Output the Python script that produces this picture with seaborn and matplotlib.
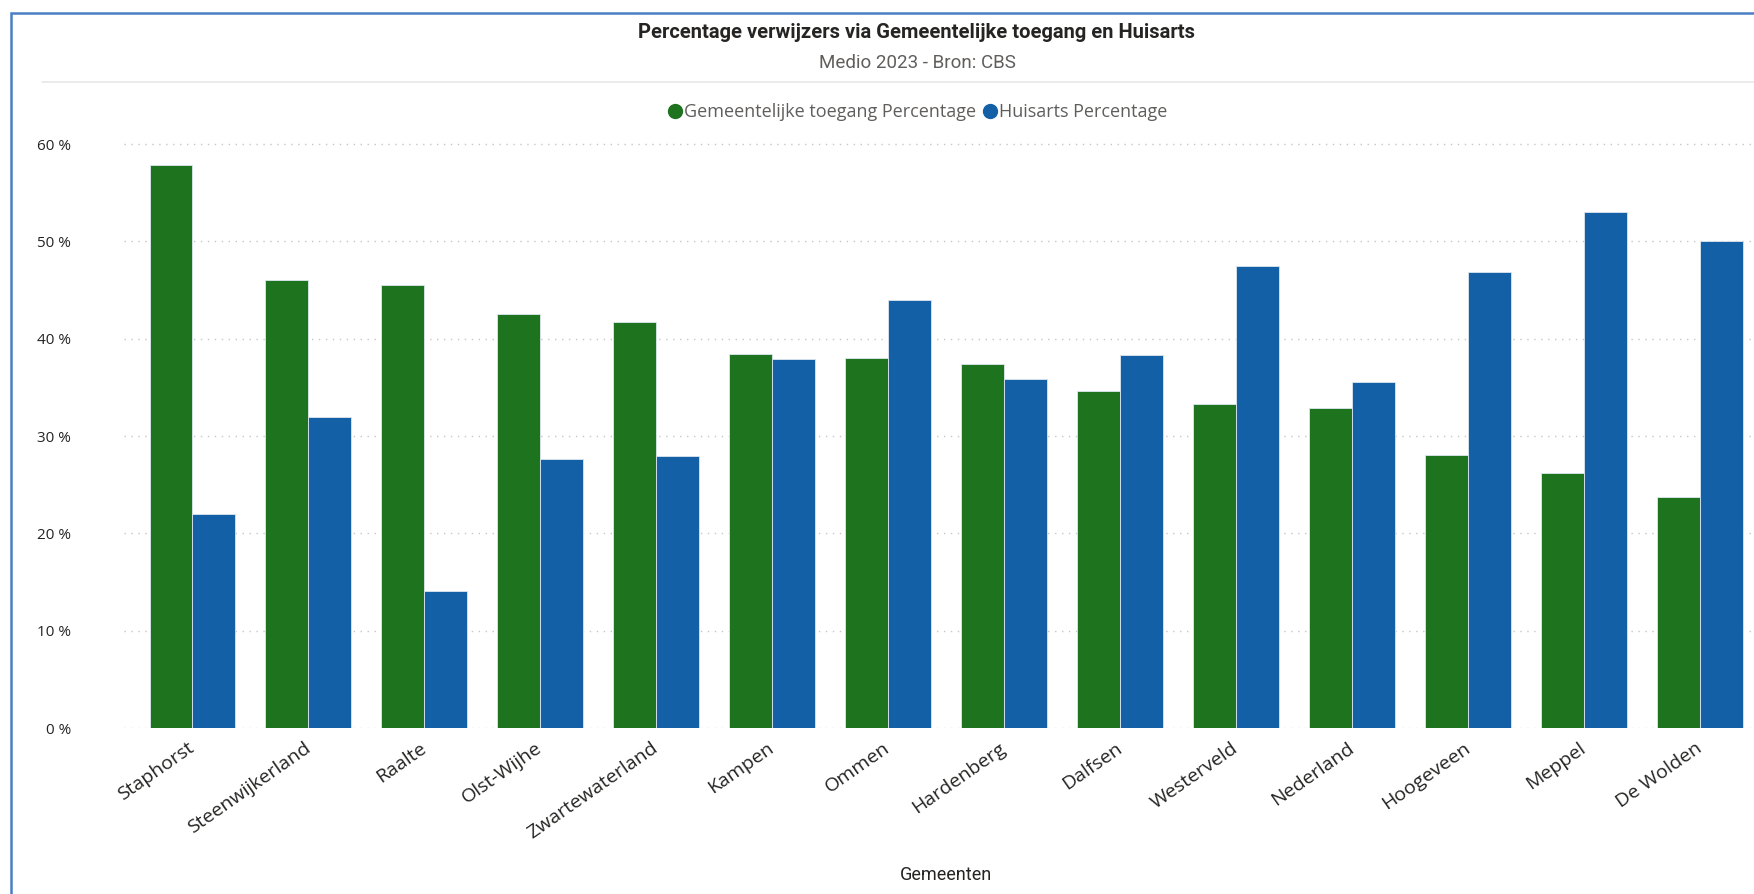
"""Percentage verwijzers via Gemeentelijke toegang en Huisarts (medio 2023)."""

import matplotlib

matplotlib.use("Agg")

import matplotlib.pyplot as plt
import pandas as pd
import seaborn as sns
from matplotlib.lines import Line2D
from matplotlib.patches import Rectangle
from matplotlib.ticker import FuncFormatter
from matplotlib.transforms import ScaledTranslation

gemeenten = [
    "Staphorst", "Steenwijkerland", "Raalte", "Olst-Wijhe", "Zwartewaterland",
    "Kampen", "Ommen", "Hardenberg", "Dalfsen", "Westerveld", "Nederland",
    "Hoogeveen", "Meppel", "De Wolden",
]
gemeentelijke_toegang = [57.8, 46.0, 45.5, 42.5, 41.7, 38.4, 38.0, 37.4, 34.6, 33.3, 32.9, 28.0, 26.2, 23.7]
huisarts = [22.0, 32.0, 14.1, 27.6, 27.9, 37.9, 44.0, 35.9, 38.3, 47.5, 35.5, 46.8, 53.0, 50.0]

series_names = ["Gemeentelijke toegang Percentage", "Huisarts Percentage"]
colors = ["#1E731E", "#1360A6"]

df = pd.DataFrame({
    "Gemeenten": gemeenten * 2,
    "Percentage": gemeentelijke_toegang + huisarts,
    "Reeks": [series_names[0]] * len(gemeenten) + [series_names[1]] * len(gemeenten),
})

sns.set_theme(style="white")
plt.rcParams["font.family"] = ["Open Sans", "DejaVu Sans"]

W, H = 1754, 894
fig = plt.figure(figsize=(W / 100, H / 100), dpi=100)
ax = fig.add_axes([124 / W, 1 - 728 / H, (1752 - 124) / W, (728 - 140) / H])

sns.barplot(
    data=df, x="Gemeenten", y="Percentage", hue="Reeks",
    palette=colors, saturation=1, width=0.74, gap=0, ax=ax,
    edgecolor="#dde7f0", linewidth=0.6, legend=False,
)

ax.set_xlim(-0.59, 13.45)
ax.set_ylim(0, 60 * (728 - 140) / (728 - 144))
ax.set_yticks(range(0, 61, 10))
ax.yaxis.set_major_formatter(FuncFormatter(lambda v, _: f"{v:.0f} %"))
ax.grid(axis="y", color="#c8c6c4", linestyle=(0, (1, 4)), linewidth=1.0)
ax.set_axisbelow(True)
for s in ax.spines.values():
    s.set_visible(False)
ax.tick_params(axis="y", labelsize=11, colors="#252423", length=0, pad=38)
ax.tick_params(axis="x", length=0, pad=8)
plt.setp(ax.get_yticklabels(), ha="right")
shift = ScaledTranslation(-5 / 100, 0, fig.dpi_scale_trans)
for lbl in ax.get_xticklabels():
    lbl.set(rotation=35, ha="right", rotation_mode="anchor", fontsize=14, color="#252423")
    lbl.set_transform(lbl.get_transform() + shift)
ax.set_ylabel("")
ax.set_xlabel("Gemeenten", fontsize=13, color="#252423", family=["Roboto", "DejaVu Sans"])
ax.xaxis.set_label_coords((946 - 124) / (1752 - 124), -(875 - 728) / (728 - 140))
ax.xaxis.label.set_va("center")

# titles
fig.text(917 / W, 1 - 32 / H, "Percentage verwijzers via Gemeentelijke toegang en Huisarts",
         ha="center", va="center", fontsize=14.5, fontweight="bold", color="#252423",
         family=["Roboto", "DejaVu Sans"])
fig.text(917 / W, 1 - 63 / H, "Medio 2023 - Bron: CBS", ha="center", va="center",
         fontsize=13.5, color="#605e5c", family=["Roboto", "DejaVu Sans"])
fig.add_artist(Line2D([42 / W, 1], [1 - 82 / H, 1 - 82 / H], color="#e8e8e8", linewidth=1.2))

handles = [Line2D([], [], marker="o", linestyle="", markersize=10, color=c) for c in colors]
fig.legend(handles, series_names, loc="center", bbox_to_anchor=(917 / W, 1 - 112 / H),
           ncol=2, frameon=False, fontsize=13, handletextpad=0.05, columnspacing=0.3,
           labelcolor="#605e5c", handlelength=0.9)

# outer frame
fig.add_artist(Rectangle((11 / W, -0.01), 1.0, 1 - 13 / H + 0.01, transform=fig.transFigure,
                         fill=False, edgecolor="#4a7fc4", linewidth=1.8))

fig.savefig("out.png", dpi=100)
